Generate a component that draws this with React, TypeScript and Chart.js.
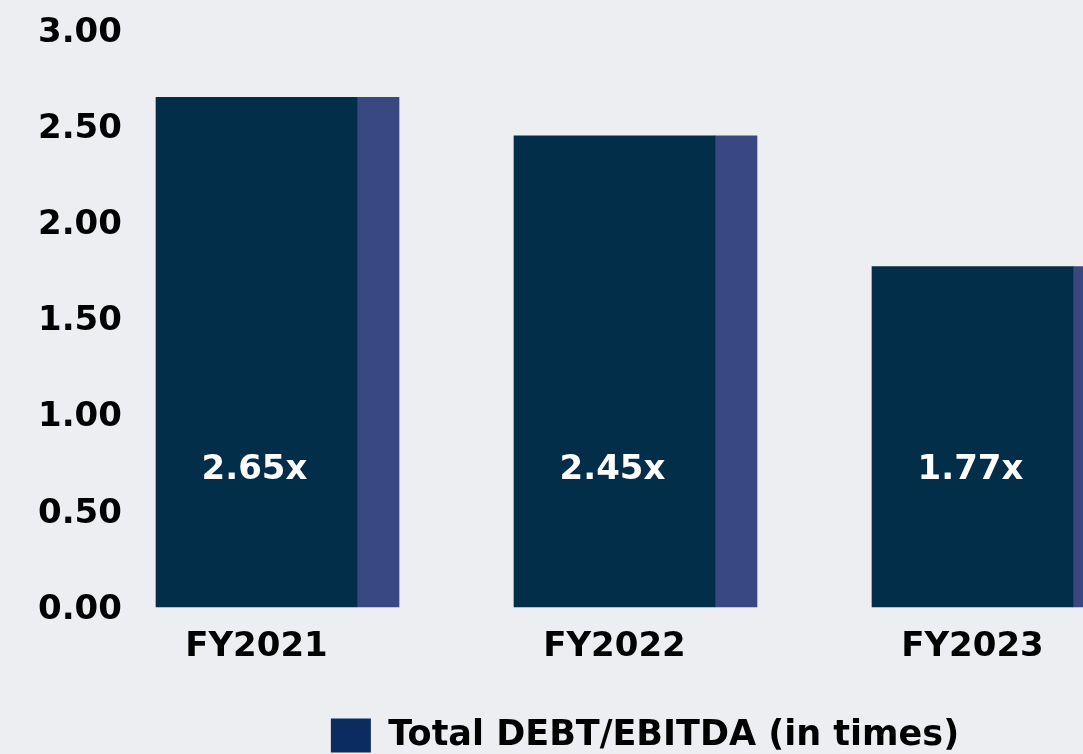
import { useEffect, useRef } from "react";
import { Chart, registerables } from "chart.js";

Chart.register(...registerables);

const categories = ["FY2021", "FY2022", "FY2023"];
const debtToEbitda = [2.65, 2.45, 1.77];
const yTicks = [0, 0.5, 1, 1.5, 2, 2.5, 3];
const seriesLabel = "Total DEBT/EBITDA (in times)";

const valueLabels = {
  id: "valueLabels",
  afterDatasetsDraw(chart: any) {
    const meta = chart.getDatasetMeta(0);
    const ctx = chart.ctx;
    const base = chart.scales.y.getPixelForValue(0);
    ctx.save();
    ctx.font = "bold 34px 'DejaVu Sans'";
    ctx.fillStyle = "#ffffff";
    ctx.textAlign = "center";
    ctx.textBaseline = "middle";
    meta.data.forEach((bar: any, i: number) => {
      ctx.fillText(`${debtToEbitda[i].toFixed(2)}x`, bar.x - 2, base - 137);
    });
    ctx.restore();
  },
};

export default function App() {
  const ref = useRef<HTMLCanvasElement>(null);

  useEffect(() => {
    if (!ref.current) return;
    const chart = new Chart(ref.current, {
      type: "bar",
      data: {
        labels: categories,
        datasets: [
          {
            label: seriesLabel,
            data: debtToEbitda,
            backgroundColor: "#022e49",
            barThickness: 201,
            clip: false,
          },
          {
            label: "side",
            data: debtToEbitda,
            backgroundColor: "#3a4882",
            barThickness: 42,
            clip: false,
          },
        ],
      },
      options: {
        responsive: false,
        devicePixelRatio: 1,
        animation: false,
        layout: { padding: { left: 38, right: 0, top: 30, bottom: 0 } },
        plugins: {
          tooltip: { enabled: false },
          legend: {
            position: "bottom",
            labels: {
              padding: 52,
              boxWidth: 40,
              boxHeight: 34,
              color: "#0f2f63",
              font: { family: "'DejaVu Sans'", size: 35, weight: "bold" },
              generateLabels: () => [
                {
                  text: seriesLabel,
                  fillStyle: "#0a2c5e",
                  strokeStyle: "#0a2c5e",
                  lineWidth: 0,
                  hidden: false,
                  datasetIndex: 0,
                },
              ],
            },
          },
        },
        scales: {
          x: {
            grid: { display: false },
            border: { display: false },
            ticks: {
              color: "#000000",
              padding: 12,
              labelOffset: -100.5,
              font: { family: "'DejaVu Sans'", size: 34, weight: "bold" },
            },
            afterFit: (scale: any) => {
              scale.height = 59;
            },
          },
          y: {
            min: 0,
            max: 3,
            grid: { display: false },
            border: { display: false },
            afterBuildTicks: (scale: any) => {
              scale.ticks = yTicks.map((v) => ({ value: v }));
            },
            ticks: {
              color: "#000000",
              padding: 0,
              crossAlign: "far",
              labelOffset: 3,
              font: { family: "'DejaVu Sans'", size: 34, weight: "bold" },
              callback: (v: any) => Number(v).toFixed(2),
            },
            afterFit: (scale: any) => {
              scale.width = 140;
            },
          },
        },
      },
      plugins: [valueLabels],
    });
    return () => chart.destroy();
  }, []);

  return (
    <div
      style={{
        position: "fixed",
        left: 0,
        top: 0,
        width: 1083,
        height: 754,
        overflow: "hidden",
        background: "#eceef2",
      }}
    >
      <canvas ref={ref} width={1252} height={763} style={{ display: "block" }} />
    </div>
  );
}
